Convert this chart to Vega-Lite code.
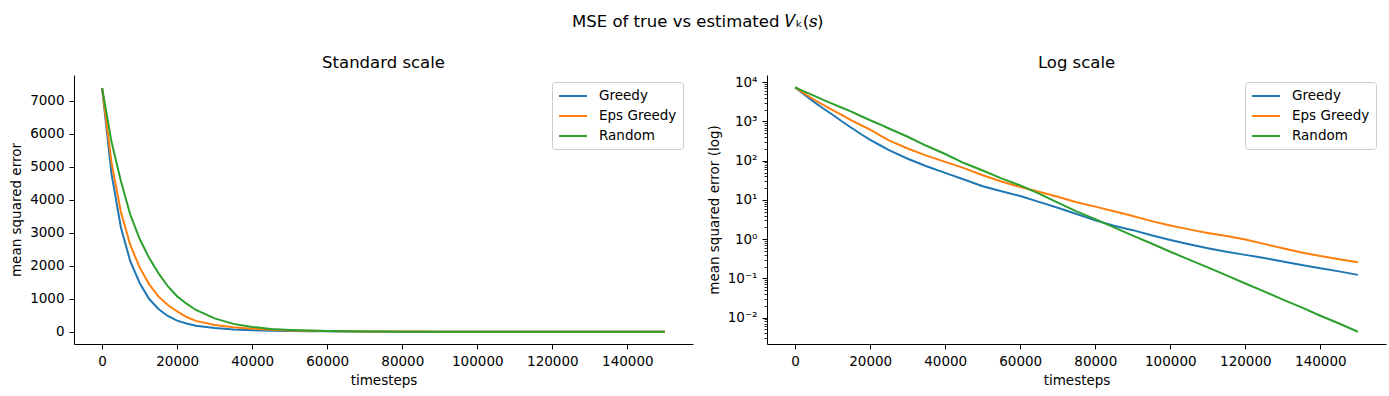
{
  "$schema": "https://vega.github.io/schema/vega-lite/v6.json",
  "padding": {"left": 9, "top": 14, "right": 3, "bottom": 5},
  "config": {
    "font": "DejaVu Sans",
    "view": {"stroke": null},
    "axis": {"grid": false, "domainColor": "#000000", "tickColor": "#000000", "labelColor": "#000000", "titleColor": "#000000", "labelFontSize": 13.5, "titleFontSize": 13.5, "titleFontWeight": "normal", "labelFont": "DejaVu Sans", "titleFont": "DejaVu Sans", "tickSize": 5, "tickWidth": 1, "domainWidth": 1, "labelPadding": 5, "titlePadding": 6},
    "title": {"font": "DejaVu Sans", "fontSize": 16.5, "fontWeight": "normal", "color": "#000000", "offset": 4},
    "legend": {"orient": "none", "legendX": 478, "legendY": 7, "padding": 6, "strokeColor": "#cccccc", "fillColor": "rgba(255,255,255,0.8)", "cornerRadius": 3, "symbolType": "M-1,0H3", "symbolSize": 196, "symbolStrokeWidth": 2, "labelFontSize": 13.5, "labelFont": "DejaVu Sans", "labelColor": "#000000", "labelOffset": 25, "rowPadding": 5}
  },
  "title": {"text": "MSE of true vs estimated 𝑉ₖ(𝑠)", "anchor": "middle", "offset": 24},
  "data": {"values": [
    {"t":0,"s":"Greedy","v":7380},{"t":2500,"s":"Greedy","v":4786},{"t":5000,"s":"Greedy","v":3162},{"t":7500,"s":"Greedy","v":2138},{"t":10000,"s":"Greedy","v":1479},{"t":12500,"s":"Greedy","v":1000},{"t":15000,"s":"Greedy","v":691.8},{"t":17500,"s":"Greedy","v":478.6},{"t":20000,"s":"Greedy","v":338.8},{"t":22500,"s":"Greedy","v":251.2},{"t":25000,"s":"Greedy","v":186.2},{"t":30000,"s":"Greedy","v":112.2},{"t":35000,"s":"Greedy","v":72.44},{"t":40000,"s":"Greedy","v":48.98},{"t":45000,"s":"Greedy","v":33.11},{"t":50000,"s":"Greedy","v":22.39},{"t":55000,"s":"Greedy","v":16.6},{"t":60000,"s":"Greedy","v":12.59},{"t":65000,"s":"Greedy","v":8.913},{"t":70000,"s":"Greedy","v":6.31},{"t":75000,"s":"Greedy","v":4.365},{"t":80000,"s":"Greedy","v":3.02},{"t":85000,"s":"Greedy","v":2.188},{"t":90000,"s":"Greedy","v":1.698},{"t":95000,"s":"Greedy","v":1.259},{"t":100000,"s":"Greedy","v":0.955},{"t":105000,"s":"Greedy","v":0.741},{"t":110000,"s":"Greedy","v":0.589},{"t":115000,"s":"Greedy","v":0.479},{"t":120000,"s":"Greedy","v":0.398},{"t":125000,"s":"Greedy","v":0.331},{"t":130000,"s":"Greedy","v":0.269},{"t":135000,"s":"Greedy","v":0.219},{"t":140000,"s":"Greedy","v":0.182},{"t":145000,"s":"Greedy","v":0.151},{"t":150000,"s":"Greedy","v":0.123},
    {"t":0,"s":"Eps Greedy","v":7380},{"t":2500,"s":"Eps Greedy","v":5129},{"t":5000,"s":"Eps Greedy","v":3631},{"t":7500,"s":"Eps Greedy","v":2630},{"t":10000,"s":"Eps Greedy","v":1950},{"t":12500,"s":"Eps Greedy","v":1445},{"t":15000,"s":"Eps Greedy","v":1072},{"t":17500,"s":"Eps Greedy","v":812.8},{"t":20000,"s":"Eps Greedy","v":616.6},{"t":22500,"s":"Eps Greedy","v":446.7},{"t":25000,"s":"Eps Greedy","v":331.1},{"t":30000,"s":"Eps Greedy","v":204.2},{"t":35000,"s":"Eps Greedy","v":134.9},{"t":40000,"s":"Eps Greedy","v":93.33},{"t":45000,"s":"Eps Greedy","v":64.57},{"t":50000,"s":"Eps Greedy","v":42.66},{"t":55000,"s":"Eps Greedy","v":29.51},{"t":60000,"s":"Eps Greedy","v":21.38},{"t":65000,"s":"Eps Greedy","v":16.22},{"t":70000,"s":"Eps Greedy","v":12.02},{"t":75000,"s":"Eps Greedy","v":8.71},{"t":80000,"s":"Eps Greedy","v":6.761},{"t":85000,"s":"Eps Greedy","v":5.129},{"t":90000,"s":"Eps Greedy","v":3.89},{"t":95000,"s":"Eps Greedy","v":2.884},{"t":100000,"s":"Eps Greedy","v":2.239},{"t":105000,"s":"Eps Greedy","v":1.778},{"t":110000,"s":"Eps Greedy","v":1.445},{"t":115000,"s":"Eps Greedy","v":1.202},{"t":120000,"s":"Eps Greedy","v":0.977},{"t":125000,"s":"Eps Greedy","v":0.759},{"t":130000,"s":"Eps Greedy","v":0.589},{"t":135000,"s":"Eps Greedy","v":0.457},{"t":140000,"s":"Eps Greedy","v":0.372},{"t":145000,"s":"Eps Greedy","v":0.309},{"t":150000,"s":"Eps Greedy","v":0.257},
    {"t":0,"s":"Random","v":7380},{"t":2500,"s":"Random","v":5754},{"t":5000,"s":"Random","v":4571},{"t":7500,"s":"Random","v":3548},{"t":10000,"s":"Random","v":2818},{"t":12500,"s":"Random","v":2239},{"t":15000,"s":"Random","v":1778},{"t":17500,"s":"Random","v":1380},{"t":20000,"s":"Random","v":1072},{"t":22500,"s":"Random","v":851.1},{"t":25000,"s":"Random","v":660.7},{"t":30000,"s":"Random","v":407.4},{"t":35000,"s":"Random","v":239.9},{"t":40000,"s":"Random","v":147.9},{"t":45000,"s":"Random","v":87.1},{"t":50000,"s":"Random","v":56.23},{"t":55000,"s":"Random","v":35.48},{"t":60000,"s":"Random","v":23.44},{"t":65000,"s":"Random","v":14.45},{"t":70000,"s":"Random","v":8.511},{"t":75000,"s":"Random","v":5.129},{"t":80000,"s":"Random","v":3.236},{"t":85000,"s":"Random","v":1.995},{"t":90000,"s":"Random","v":1.23},{"t":95000,"s":"Random","v":0.776},{"t":100000,"s":"Random","v":0.479},{"t":105000,"s":"Random","v":0.302},{"t":110000,"s":"Random","v":0.191},{"t":115000,"s":"Random","v":0.12},{"t":120000,"s":"Random","v":0.0741},{"t":125000,"s":"Random","v":0.0468},{"t":130000,"s":"Random","v":0.0288},{"t":135000,"s":"Random","v":0.0182},{"t":140000,"s":"Random","v":0.0112},{"t":145000,"s":"Random","v":0.00708},{"t":150000,"s":"Random","v":0.00437}
  ]},
  "spacing": 74,
  "bounds": "flush",
  "resolve": {"scale": {"color": "independent"}, "legend": {"color": "independent"}},
  "hconcat": [
    {
      "width": 619, "height": 269,
      "title": "Standard scale",
      "mark": {"type": "line", "strokeWidth": 2, "clip": true},
      "encoding": {
        "x": {"field": "t", "type": "quantitative", "scale": {"domain": [-7500, 157500], "nice": false, "zero": false}, "axis": {"values": [0,20000,40000,60000,80000,100000,120000,140000], "format": "d", "title": "timesteps"}},
        "y": {"field": "v", "type": "quantitative", "scale": {"domain": [-370, 7780], "nice": false, "zero": false}, "axis": {"values": [0,1000,2000,3000,4000,5000,6000,7000], "format": "d", "title": "mean squared error"}},
        "color": {"field": "s", "type": "nominal", "sort": ["Greedy","Eps Greedy","Random"], "scale": {"domain": ["Greedy","Eps Greedy","Random"], "range": ["#1f77b4","#ff7f0e","#2ca02c"]}, "legend": {"title": null}}
      }
    },
    {
      "width": 619, "height": 269,
      "title": "Log scale",
      "encoding": {
        "x": {"field": "t", "type": "quantitative", "scale": {"domain": [-7500, 157500], "nice": false, "zero": false}, "axis": {"values": [0,20000,40000,60000,80000,100000,120000,140000], "format": "d", "title": "timesteps"}}
      },
      "layer": [
        {
          "mark": {"type": "line", "strokeWidth": 2, "clip": true},
          "encoding": {
            "y": {"field": "v", "type": "quantitative", "scale": {"type": "log", "domain": [0.00213, 15280], "nice": false}, "axis": {"orient": "left", "values": [0.01,0.1,1,10,100,1000,10000], "labelExpr": "'10' + ['⁻²','⁻¹','⁰','¹','²','³','⁴'][round(log(datum.value)/LN10)+2]", "title": "mean squared error (log)"}},
            "color": {"field": "s", "type": "nominal", "sort": ["Greedy","Eps Greedy","Random"], "scale": {"domain": ["Greedy","Eps Greedy","Random"], "range": ["#1f77b4","#ff7f0e","#2ca02c"]}, "legend": {"title": null}}
          }
        },
        {
          "mark": {"type": "point", "opacity": 0},
          "encoding": {
            "y": {"field": "v", "type": "quantitative", "scale": {"type": "log", "domain": [0.00213, 15280], "nice": false}, "axis": {"orient": "left", "values": [0.003,0.004,0.005,0.006,0.007,0.008,0.009,0.02,0.03,0.04,0.05,0.06,0.07,0.08,0.09,0.2,0.3,0.4,0.5,0.6,0.7,0.8,0.9,2,3,4,5,6,7,8,9,20,30,40,50,60,70,80,90,200,300,400,500,600,700,800,900,2000,3000,4000,5000,6000,7000,8000,9000], "labels": false, "domain": false, "tickSize": 3, "tickWidth": 0.8, "title": null}}
          }
        }
      ],
      "resolve": {"axis": {"y": "independent"}}
    }
  ]
}
